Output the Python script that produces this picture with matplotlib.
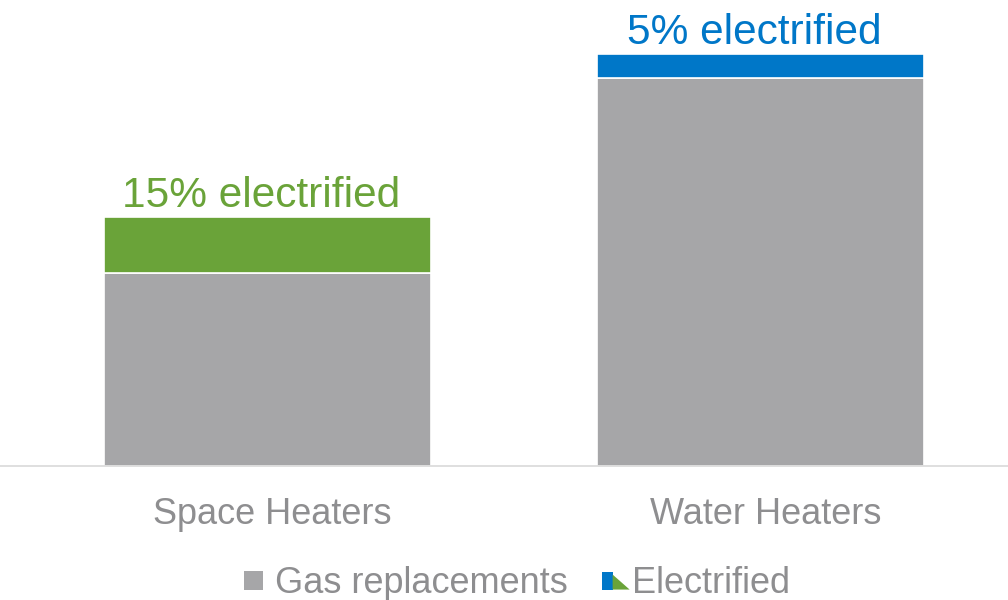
import matplotlib.pyplot as plt
import matplotlib.transforms as mtransforms
from matplotlib.patches import Rectangle, Polygon

plt.rcParams['font.family'] = ['Liberation Sans', 'DejaVu Sans']

categories = ['Space Heaters', 'Water Heaters']
gas_replacements = [193, 388]
electrified = [56, 24]
share_labels = ['15% electrified', '5% electrified']

gray = '#a6a6a8'
green = '#6aa339'
blue = '#0077c8'
text_gray = '#8e8e90'
label_colors = [green, blue]

PX = 72 / 100  # one pixel in points at dpi 100


class GasHandler:
    # grey square at the left of the handle box
    def legend_artist(self, legend, orig_handle, fontsize, handlebox):
        x0, y0 = -handlebox.xdescent, -handlebox.ydescent
        s = 19 * PX
        yc = y0 + handlebox.height / 2
        sq = Rectangle((x0, yc - s / 2), s, s, facecolor=gray, edgecolor='none',
                       transform=handlebox.get_transform())
        handlebox.add_artist(sq)
        return sq


class ElectrifiedHandler:
    # blue block with a green triangle to its lower right
    def legend_artist(self, legend, orig_handle, fontsize, handlebox):
        x0, y0 = -handlebox.xdescent, -handlebox.ydescent
        h = 18 * PX
        yc = y0 + handlebox.height / 2
        yb = yc - h / 2
        bw = 11 * PX
        sq = Rectangle((x0, yb), bw, h, facecolor=blue, edgecolor='none',
                       transform=handlebox.get_transform())
        tri = Polygon([(x0 + bw, yb), (x0 + bw + 17 * PX, yb), (x0 + bw, yb + 15 * PX)],
                      closed=True, facecolor=green, edgecolor='none',
                      transform=handlebox.get_transform())
        handlebox.add_artist(sq)
        handlebox.add_artist(tri)
        return sq


fig = plt.figure(figsize=(10.08, 6.0), dpi=100)
ax = fig.add_axes([0, 0.2233, 1, 0.7767])

x = range(len(categories))
ax.bar(x, gas_replacements, width=0.663, color=gray, edgecolor='white', linewidth=1.2)
ax.bar(x, electrified, bottom=gas_replacements, width=0.663,
       color=label_colors, edgecolor='white', linewidth=1.2)

for i in x:
    top = gas_replacements[i] + electrified[i]
    ax.annotate(share_labels[i], (i, top), xytext=(-4.5, 7), textcoords='offset points',
                ha='center', va='baseline', fontsize=30.5, color=label_colors[i])

ax.set_xlim(-0.5426, 1.502)
ax.set_ylim(0, 466)
ax.set_xticks(list(x))
ax.set_xticklabels(categories, fontsize=26, color=text_gray)
ax.tick_params(axis='x', length=0, pad=22)
shift = mtransforms.ScaledTranslation(5 / 100, 0, fig.dpi_scale_trans)
for lab in ax.get_xticklabels():
    lab.set_transform(lab.get_transform() + shift)
ax.set_yticks([])
for side in ['top', 'right', 'left']:
    ax.spines[side].set_visible(False)
ax.spines['bottom'].set_color('#d9d9d9')
ax.spines['bottom'].set_linewidth(1.2)

gas_handle = Rectangle((0, 0), 1, 1, facecolor=gray, edgecolor='none')
elec_handle = Rectangle((0, 0), 1, 1, facecolor=blue, edgecolor='none')
leg = fig.legend([gas_handle, elec_handle], ['Gas replacements', 'Electrified'],
                 handler_map={gas_handle: GasHandler(), elec_handle: ElectrifiedHandler()},
                 loc='center', bbox_to_anchor=(0.513, 0.027), ncol=2, frameon=False,
                 fontsize=26, handlelength=0.79, handleheight=0.6, handletextpad=0.06,
                 columnspacing=0.95, borderpad=0, borderaxespad=0)
for t in leg.get_texts():
    t.set_color(text_gray)

fig.savefig('out.png', dpi=100)
